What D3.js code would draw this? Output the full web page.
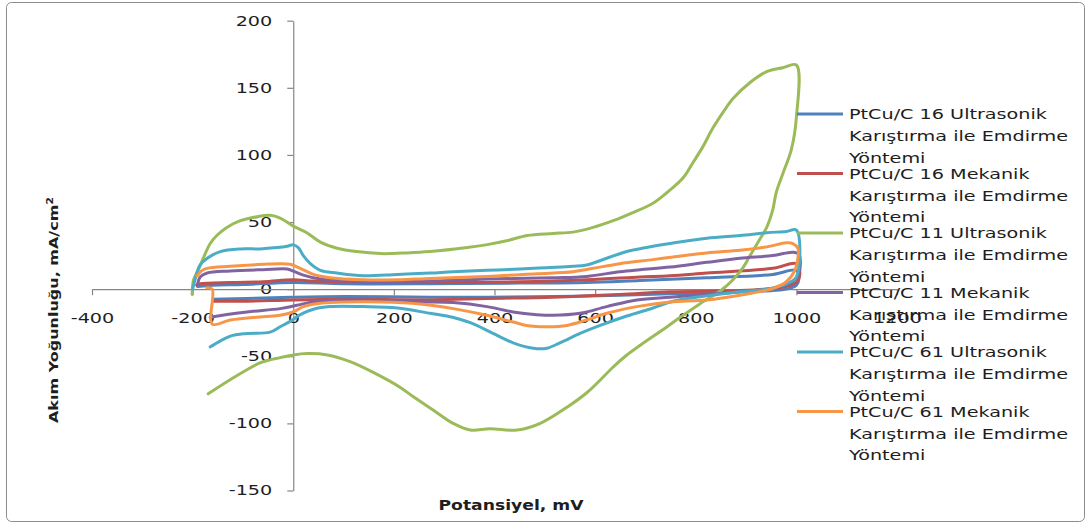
<!DOCTYPE html>
<html>
<head>
<meta charset="utf-8">
<script src="https://cdn.jsdelivr.net/npm/d3@7"></script>
<style>
  html, body { margin: 0; padding: 0; background: #fff; }
  svg { display: block; }
  text { font-family: "DejaVu Sans", Verdana, sans-serif; fill: #1e1e1e; }
</style>
</head>
<body>
<svg id="chart" width="1091" height="525"></svg>
<script>
// Axis ticks
const xTicks = [-400, -200, 0, 200, 400, 600, 800, 1000, 1200];
const yTicks = [-150, -100, -50, 0, 50, 100, 150, 200];

// Series names (legend order)
const seriesNames = [
  ["PtCu/C 16 Ultrasonik", "Karıştırma ile Emdirme", "Yöntemi"],
  ["PtCu/C 16 Mekanik", "Karıştırma ile Emdirme", "Yöntemi"],
  ["PtCu/C 11 Ultrasonik", "Karıştırma ile Emdirme", "Yöntemi"],
  ["PtCu/C 11 Mekanik", "Karıştırma ile Emdirme", "Yöntemi"],
  ["PtCu/C 61 Ultrasonik", "Karıştırma ile Emdirme", "Yöntemi"],
  ["PtCu/C 61 Mekanik", "Karıştırma ile Emdirme", "Yöntemi"]
];
const seriesColors = ["#4F81BD", "#C0504D", "#9BBB59", "#8064A2", "#4BACC6", "#F79646"];

// Cyclic voltammograms: [potential mV, current density mA/cm2], anodic then cathodic sweep
const ptcu16Ultrasonik = [
  [-190, 2], [-160, 3], [-100, 3.5], [0, 5], [100, 4], [272, 4], [450, 4.5], [583, 5],
  [689, 6.5], [822, 8.5], [953, 11], [1000, 14], [1005, 8], [1000, 3], [980, 0],
  [953, -1], [888, -2], [822, -3], [749, -3.5], [649, -4.5], [516, -5.5], [385, -6],
  [272, -6], [106, -5.5], [0, -6], [-92, -7], [-160, -7.5]
];
const ptcu16Mekanik = [
  [-192, 3], [-185, 4], [-125, 5], [-60, 5.5], [0, 7], [40, 6], [106, 5.5], [272, 5],
  [451, 5.5], [583, 7], [689, 9], [749, 10], [822, 12], [953, 15.5], [1000, 19],
  [1007, 12], [1000, 5], [980, 2], [953, 0.5], [888, -1], [749, -2], [649, -4],
  [516, -6], [385, -7], [272, -8], [106, -7.5], [0, -8], [-92, -9], [-160, -9]
];
const ptcu11Ultrasonik = [
  [-201, -4], [-198, 7], [-189, 14], [-179, 23], [-165, 34], [-152, 40], [-132, 46],
  [-105, 51], [-72, 54], [-46, 55], [-26, 53], [0, 47], [27, 42], [54, 35], [87, 30.5],
  [126, 28], [173, 26.5], [226, 27], [272, 28], [346, 31], [383, 33], [424, 36],
  [465, 40], [516, 41.5], [556, 42.5], [596, 46], [636, 51], [675, 57], [715, 64],
  [743, 72], [775, 83], [794, 94], [814, 106], [834, 120], [862, 136], [874, 142],
  [908, 154], [941, 162], [973, 165], [1000, 167],
  [1000, 128], [990, 104], [973, 86], [960, 72], [953, 59], [941, 46], [927, 37],
  [908, 25], [894, 16], [874, 7], [850, -1], [808, -11], [769, -21], [743, -28],
  [689, -42], [660, -50], [636, -58], [584, -77], [544, -88], [491, -100], [445, -105],
  [391, -104], [352, -105], [318, -100], [278, -90], [238, -80], [212, -73], [159, -62],
  [113, -54], [68, -49], [28, -48], [0, -49], [-26, -51], [-66, -55], [-119, -66],
  [-169, -78]
];
const ptcu11Mekanik = [
  [-190, 4], [-185, 9], [-171, 12], [-125, 13.5], [-60, 14.5], [-12, 15], [0, 13.5],
  [20, 10.5], [54, 7.5], [106, 6], [173, 5.5], [272, 6], [385, 7.5], [516, 8.5],
  [583, 9.5], [649, 13], [689, 14.5], [749, 16.5], [822, 20], [888, 23], [953, 25],
  [993, 27.5], [1005, 26], [1008, 20], [1005, 12], [995, 6], [980, 3], [941, 0],
  [888, -2], [822, -4], [749, -6], [683, -8], [623, -13], [570, -18], [516, -19.5],
  [484, -19], [437, -17], [385, -13], [318, -10], [252, -9.5], [106, -8], [40, -9.5],
  [7, -12], [-26, -14.5], [-92, -17], [-159, -20.5], [-165, -21]
];
const ptcu61Ultrasonik = [
  [-200, 0], [-196, 6], [-190, 14], [-185, 18], [-171, 23], [-145, 28], [-105, 30],
  [-66, 30], [-32, 31], [-12, 32], [0, 33], [10, 31], [20, 25], [34, 19], [54, 14],
  [87, 12], [139, 10], [207, 11], [272, 12], [318, 13], [385, 14], [451, 15],
  [504, 16], [556, 17], [583, 18], [623, 23], [663, 28], [702, 31], [749, 34],
  [822, 38], [888, 40], [941, 42], [980, 43], [1000, 44],
  [1000, 9], [980, 4], [941, 0], [888, -2], [822, -5], [755, -9], [715, -14],
  [663, -20], [610, -27], [570, -33], [530, -40], [504, -44], [477, -44], [437, -40],
  [397, -33], [352, -25], [305, -20], [272, -18], [207, -14], [139, -13], [73, -13],
  [40, -15], [14, -19], [-6, -24], [-26, -28], [-46, -32], [-92, -33], [-125, -35],
  [-165, -43]
];
const ptcu61Mekanik = [
  [-191, 10], [-181, 14], [-171, 15.5], [-125, 17], [-60, 18.5], [-26, 19], [-6, 18.5],
  [14, 15.5], [40, 11], [73, 8.5], [139, 7], [207, 7], [272, 8], [385, 9.5],
  [484, 11.5], [556, 13], [596, 15.5], [649, 19], [715, 22], [755, 24], [822, 27],
  [888, 29], [941, 31.5], [980, 34.5], [993, 34], [1003, 30.5], [1003, 23], [997, 14],
  [980, 5.5], [953, 0.5], [888, -4.5], [822, -8], [749, -9.5], [683, -13], [623, -18],
  [583, -23], [544, -27], [504, -28], [471, -27.5], [437, -24.5], [385, -19.5],
  [318, -14.5], [252, -11], [173, -9.5], [106, -9.5], [54, -10.5], [20, -13], [0, -17],
  [-26, -19.5], [-60, -20.5], [-125, -23], [-161, -26], [-161, 0], [-172, 1]
];
const seriesData = [ptcu16Ultrasonik, ptcu16Mekanik, ptcu11Ultrasonik,
                    ptcu11Mekanik, ptcu61Ultrasonik, ptcu61Mekanik];

// Layout
const svg = d3.select("#chart");
const STRETCH = 1.37;   // wide text rendering used throughout the chart

svg.append("rect")
  .attr("x", 6.5).attr("y", 2.5)
  .attr("width", 1078).attr("height", 519)
  .attr("rx", 5).attr("ry", 5)
  .attr("fill", "#fff").attr("stroke", "#8c8c8c").attr("stroke-width", 1);

const x = d3.scaleLinear().domain([-400, 1200]).range([92, 897]);
const y = d3.scaleLinear().domain([-150, 200]).range([490.5, 20.7]);

function widen(sel) {
  sel.each(function () {
    const w = this.getComputedTextLength();
    d3.select(this).attr("textLength", w * STRETCH).attr("lengthAdjust", "spacingAndGlyphs");
  });
}

// Y axis crossing at x = 0
const yAxis = svg.append("g")
  .attr("transform", `translate(${x(0)},0)`)
  .call(d3.axisLeft(y).tickValues(yTicks).tickSize(6).tickSizeOuter(0).tickPadding(15)
        .tickFormat(d => String(d)));
// X axis crossing at y = 0
const xAxis = svg.append("g")
  .attr("transform", `translate(0,${y(0)})`)
  .call(d3.axisBottom(x).tickValues(xTicks).tickSize(6).tickSizeOuter(0).tickPadding(18)
        .tickFormat(d => String(d)));

[yAxis, xAxis].forEach(g => {
  g.select(".domain").attr("stroke", "#868686").attr("stroke-width", 1.2);
  g.selectAll(".tick line").attr("stroke", "#868686").attr("stroke-width", 1.2);
  g.selectAll(".tick text")
    .attr("font-family", "DejaVu Sans").attr("font-size", 14).attr("fill", "#1e1e1e")
    .call(widen);
});

// Curves
const line = d3.line()
  .x(d => x(d[0])).y(d => y(d[1]))
  .curve(d3.curveCatmullRom.alpha(0.5));
svg.append("g").selectAll("path")
  .data(seriesData)
  .join("path")
  .attr("d", line)
  .attr("fill", "none")
  .attr("stroke", (d, i) => seriesColors[i])
  .attr("stroke-width", 3)
  .attr("stroke-linejoin", "round")
  .attr("stroke-linecap", "round");

// Axis titles
svg.append("text")
  .attr("x", 511).attr("y", 510)
  .attr("text-anchor", "middle")
  .attr("font-size", 14).attr("font-weight", "bold")
  .attr("textLength", 145).attr("lengthAdjust", "spacingAndGlyphs")
  .text("Potansiyel, mV");

const yTitle = svg.append("text")
  .attr("transform", "translate(58,310) rotate(-90)")
  .attr("text-anchor", "middle")
  .attr("font-size", 13).attr("font-weight", "bold")
  .attr("textLength", 226).attr("lengthAdjust", "spacingAndGlyphs");
yTitle.append("tspan").text("Akım Yoğunluğu, mA/cm");
yTitle.append("tspan").attr("baseline-shift", "super").attr("font-size", 9).text("2");

// Legend
const legend = svg.append("g");
seriesNames.forEach((lines, i) => {
  const ly = 114 + i * 59.5;
  legend.append("line")
    .attr("x1", 797).attr("x2", 843).attr("y1", ly).attr("y2", ly)
    .attr("stroke", seriesColors[i]).attr("stroke-width", 2.8);
  lines.forEach((t, j) => {
    legend.append("text")
      .attr("x", 849).attr("y", ly + 5.3 + j * 21.7)
      .attr("font-size", 14)
      .text(t)
      .call(widen);
  });
});
</script>
</body>
</html>
